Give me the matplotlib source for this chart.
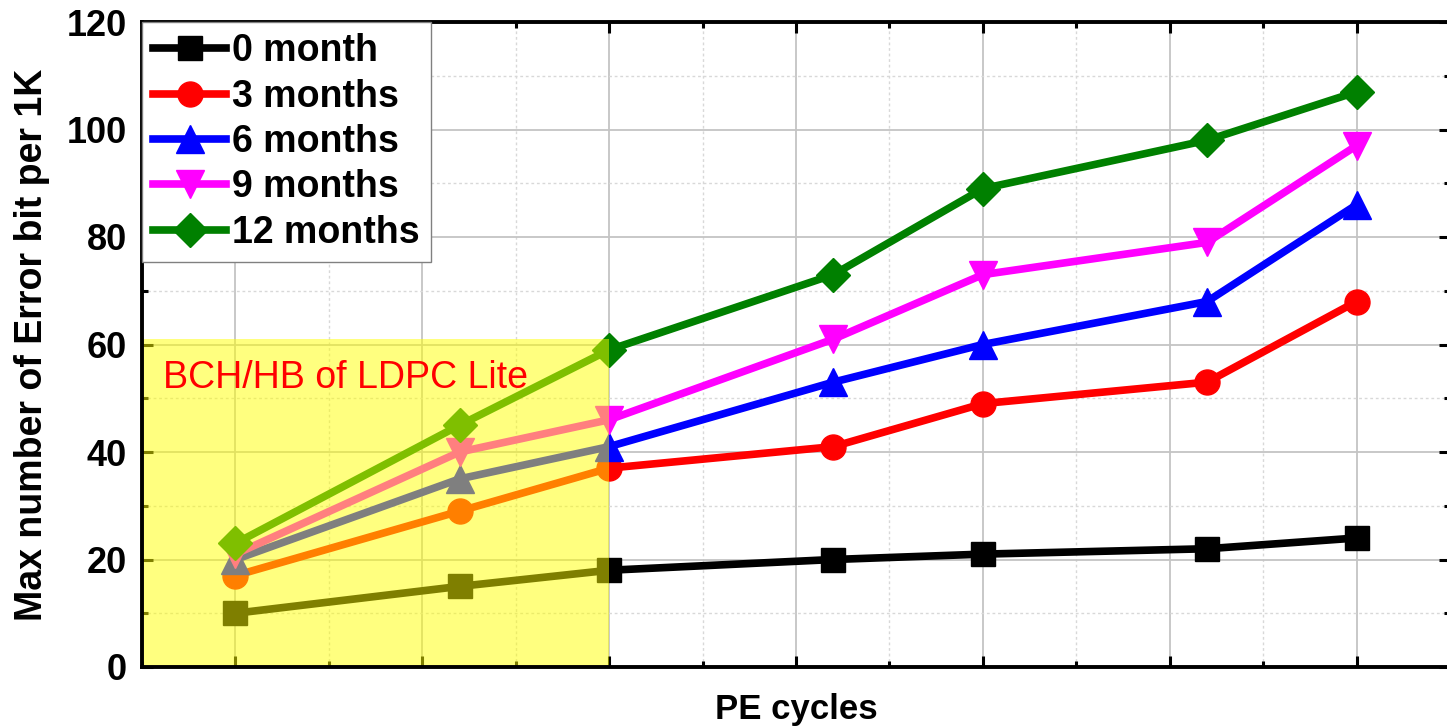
import matplotlib
matplotlib.use("Agg")
import matplotlib.pyplot as plt
from matplotlib.patches import Rectangle
from matplotlib.ticker import MultipleLocator, NullFormatter

plt.rcParams['font.family'] = ['Liberation Sans', 'DejaVu Sans']

pe_cycles = [0, 1.2, 2, 3.2, 4, 5.2, 6]
series_labels = ["0 month", "3 months", "6 months", "9 months", "12 months"]
m0 = [10, 15, 18, 20, 21, 22, 24]
m3 = [17, 29, 37, 41, 49, 53, 68]
m6 = [20, 35, 41, 53, 60, 68, 86]
m9 = [21, 40, 46, 61, 73, 79, 97]
m12 = [23, 45, 59, 73, 89, 98, 107]
yticks = [0, 20, 40, 60, 80, 100, 120]
region_label = "BCH/HB of LDPC Lite"
region_x_end = 2
region_y_top = 61

series = [m0, m3, m6, m9, m12]
colors = ["#000000", "#ff0000", "#0000ff", "#ff00ff", "#008000"]
markers = ["s", "o", "^", "v", "D"]
msizes = [17, 18, 20, 20, 17]

fig = plt.figure(figsize=(14.47, 7.27), dpi=100)
ax = fig.add_axes([142/1447, 1 - 667/727, (1450 - 142)/1447, (667 - 22)/727])

for vals, lab, c, m, ms in zip(series, series_labels, colors, markers, msizes):
    ax.plot(pe_cycles, vals, color=c, marker=m, markersize=ms, linewidth=5.5,
            label=lab, zorder=2)

ax.set_xlim(-0.5, 6.5)
ax.set_ylim(0, 120)
ax.xaxis.set_major_locator(MultipleLocator(1))
ax.xaxis.set_minor_locator(MultipleLocator(0.5))
ax.xaxis.set_major_formatter(NullFormatter())
ax.set_yticks(yticks)
ax.yaxis.set_minor_locator(MultipleLocator(10))

ax.grid(which='major', color='#c4c4c4', linewidth=1.3, linestyle='-')
ax.grid(which='minor', color='#d8d8d8', linewidth=1.0, linestyle=(0, (2, 2)))

ax.tick_params(which='both', direction='in', top=True, right=True, color='black')
ax.tick_params(which='major', length=8, width=2.2, pad=11)
ax.tick_params(which='minor', length=4, width=2.2)
for lbl in ax.get_yticklabels():
    lbl.set_fontweight('bold')
    lbl.set_fontsize(26)
for s in ax.spines.values():
    s.set_linewidth(2.8)
    s.set_zorder(2.6)

rect = Rectangle((-0.5, 0), region_x_end + 0.5, region_y_top, facecolor='#ffff00',
                 alpha=0.5, edgecolor='none', zorder=2.3)
ax.add_patch(rect)
ax.text(-0.39, 53.8, region_label, color='#ff0000', fontsize=27,
        ha='left', va='center', zorder=3)

ax.set_xlabel("PE cycles", fontsize=25, fontweight='bold', labelpad=8)
ax.set_ylabel("Max number of Error bit per 1K", fontsize=27, fontweight='bold', labelpad=12)

leg = ax.legend(loc='upper left', borderaxespad=0,
                prop={'weight': 'bold', 'size': 27}, handlelength=1.95,
                handletextpad=0.15, labelspacing=0.25, borderpad=0.3,
                fancybox=False, framealpha=1, edgecolor='#808080')
leg.get_frame().set_linewidth(1.0)
leg.set_zorder(5)

fig.savefig("out.png", dpi=100)
